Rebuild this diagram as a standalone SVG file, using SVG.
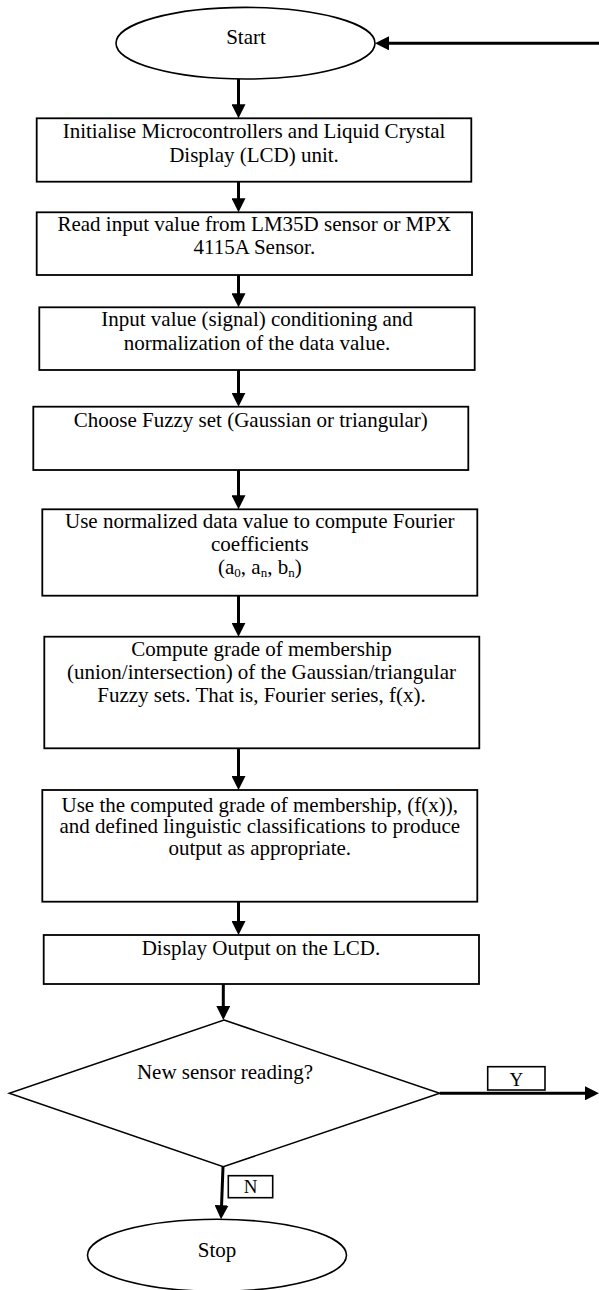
<svg xmlns="http://www.w3.org/2000/svg" width="599" height="1290" viewBox="0 0 599 1290">
<style>
.box{fill:#fff;stroke:#000;stroke-width:1.8}
.term{fill:#fff;stroke:#000;stroke-width:1.6}
.dec{fill:#fff;stroke:#000;stroke-width:1.5}
.lbl{fill:#fff;stroke:#000;stroke-width:1.6}
.t{font-family:"Liberation Serif","Times New Roman",serif;font-size:21px;fill:#000;text-anchor:middle}
.s{font-family:"Liberation Serif","Times New Roman",serif;font-size:19px;fill:#000;text-anchor:middle}
.sub{font-size:13px}
.c{stroke:#000;stroke-width:3;fill:none;marker-end:url(#ah)}
</style>
<defs>
<marker id="ah" markerUnits="userSpaceOnUse" markerWidth="14" markerHeight="14" refX="10" refY="7" orient="auto">
<path d="M0,0 L14,7 L0,14 z" fill="#000"/>
</marker>
</defs>
<rect width="599" height="1290" fill="#fff"/>
<g id="connectors">
<line class="c" x1="238.5" y1="79" x2="238.5" y2="114.3"/>
<line class="c" x1="238.5" y1="181.7" x2="238.5" y2="208.3"/>
<line class="c" x1="238.5" y1="275" x2="238.5" y2="303.3"/>
<line class="c" x1="238.5" y1="370" x2="238.5" y2="402.7"/>
<line class="c" x1="238.5" y1="470" x2="238.5" y2="505.3"/>
<line class="c" x1="238.5" y1="595.7" x2="238.5" y2="632.7"/>
<line class="c" x1="238.5" y1="748.3" x2="238.5" y2="786"/>
<line class="c" x1="238.5" y1="901.7" x2="238.5" y2="931"/>
<line class="c" x1="223.3" y1="984" x2="223.3" y2="1016"/>
<line class="c" x1="223" y1="1167" x2="221.2" y2="1215.3"/>
<line class="c" x1="439.7" y1="1093.3" x2="595" y2="1093.3"/>
<line class="c" x1="599" y1="43.3" x2="379" y2="43.3"/>
</g>
<g id="start">
<ellipse class="term" cx="245.5" cy="43.2" rx="129.5" ry="35.8"/>
<text class="t" x="246" y="43.5">Start</text>
</g>
<g id="init">
<rect class="box" x="36.7" y="118.3" width="434.6" height="63.4"/>
<text class="t" x="254" y="138.3">Initialise Microcontrollers and Liquid Crystal</text>
<text class="t" x="254" y="161.7">Display (LCD) unit.</text>
</g>
<g id="read">
<rect class="box" x="36.7" y="212.3" width="435.3" height="62.7"/>
<text class="t" x="254.3" y="231">Read input value from LM35D sensor or MPX</text>
<text class="t" x="254.3" y="254">4115A Sensor.</text>
</g>
<g id="condition">
<rect class="box" x="39.3" y="307.3" width="435.4" height="62.7"/>
<text class="t" x="257" y="326.3">Input value (signal) conditioning and</text>
<text class="t" x="257" y="349.8">normalization of the data value.</text>
</g>
<g id="choose">
<rect class="box" x="33.3" y="406.7" width="435" height="63.3"/>
<text class="t" x="250.8" y="426.7">Choose Fuzzy set (Gaussian or triangular)</text>
</g>
<g id="fourier">
<rect class="box" x="42.3" y="509.3" width="435" height="86.4"/>
<text class="t" x="259.8" y="528.3">Use normalized data value to compute Fourier</text>
<text class="t" x="259.8" y="551">coefficients</text>
<text class="t" x="259.8" y="574.3">(a<tspan class="sub" dy="3">0</tspan><tspan dy="-3">, a</tspan><tspan class="sub" dy="3">n</tspan><tspan dy="-3">, b</tspan><tspan class="sub" dy="3">n</tspan><tspan dy="-3">)</tspan></text>
</g>
<g id="membership">
<rect class="box" x="44.3" y="636.7" width="435" height="111.6"/>
<text class="t" x="261.5" y="656">Compute grade of membership</text>
<text class="t" x="261.5" y="679.3">(union/intersection) of the Gaussian/triangular</text>
<text class="t" x="261.5" y="701.7">Fuzzy sets. That is, Fourier series, f(x).</text>
</g>
<g id="classify">
<rect class="box" x="42.3" y="790" width="435" height="111.7"/>
<text class="t" x="259.8" y="811.5">Use the computed grade of membership, (f(x)),</text>
<text class="t" x="259.8" y="833.3">and defined linguistic classifications to produce</text>
<text class="t" x="259.8" y="855">output as appropriate.</text>
</g>
<g id="display">
<rect class="box" x="43.7" y="935" width="435.3" height="49"/>
<text class="t" x="261" y="955">Display Output on the LCD.</text>
</g>
<g id="decision">
<polygon class="dec" points="224,1020 439.7,1093.3 223.3,1166.7 9.3,1093.3"/>
<text class="t" x="225" y="1079.3">New sensor reading?</text>
</g>
<g id="label-y">
<rect class="lbl" x="487.7" y="1066.7" width="57.3" height="23.3"/>
<text class="s" x="516.3" y="1086.3">Y</text>
</g>
<g id="label-n">
<rect class="lbl" x="228.3" y="1175.7" width="44.4" height="22"/>
<text class="s" x="250.5" y="1193.3">N</text>
</g>
<g id="stop">
<ellipse class="term" cx="217" cy="1255.3" rx="129.5" ry="36"/>
<text class="t" x="217" y="1256.7">Stop</text>
</g>
</svg>
